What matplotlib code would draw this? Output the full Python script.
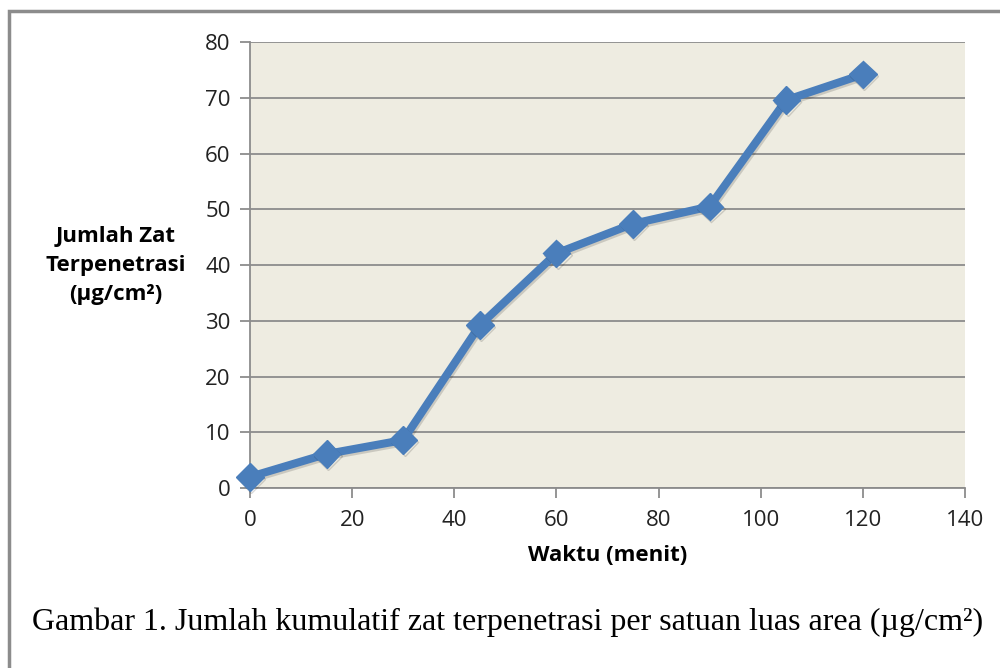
import matplotlib
matplotlib.use("Agg")
import matplotlib.pyplot as plt
from matplotlib.patches import Rectangle
import matplotlib.patheffects as pe

waktu = [0, 15, 30, 45, 60, 75, 90, 105, 120]
jumlah = [2.0, 6.1, 8.6, 29.2, 42.1, 47.4, 50.5, 69.6, 74.2]
xticks = [0, 20, 40, 60, 80, 100, 120, 140]
yticks = [0, 10, 20, 30, 40, 50, 60, 70, 80]

fig = plt.figure(figsize=(10, 6.68), dpi=100)
fig.patch.set_facecolor("white")
fig.patches.append(Rectangle((0.009, -0.05), 1.5, 1.033, transform=fig.transFigure,
                             fill=False, edgecolor="#8c8c8c", linewidth=2.5))

ax = fig.add_axes([0.25, 0.2695, 0.715, 0.6675])
ax.set_facecolor("#EEECE1")
ax.set_xlim(0, 140)
ax.set_ylim(0, 80)
ax.set_xticks(xticks)
ax.set_yticks(yticks)
ax.yaxis.grid(True, color="#8c8c8c", linewidth=1.3)
ax.set_axisbelow(True)
for s in ["top", "right"]:
    ax.spines[s].set_visible(False)
for s in ["left", "bottom"]:
    ax.spines[s].set_color("#8c8c8c")
    ax.spines[s].set_linewidth(1.3)
ax.tick_params(axis="both", direction="out", length=7, width=1.3, color="#8c8c8c",
               labelsize=16, labelcolor="#222222")
ax.tick_params(axis="y", pad=7)
ax.tick_params(axis="x", pad=9)
for lab in ax.get_xticklabels() + ax.get_yticklabels():
    lab.set_fontfamily("Open Sans")

ax.plot(waktu, jumlah, color="#4A7EBB", linewidth=5.8, marker="D", markersize=14,
        markerfacecolor="#4A7EBB", markeredgecolor="#4A7EBB", clip_on=False, zorder=3,
        path_effects=[pe.SimpleLineShadow(offset=(1, -1.5), alpha=0.15), pe.Normal()])

ax.set_xlabel("Waktu (menit)", fontsize=16, fontweight="bold", fontfamily="Open Sans",
              labelpad=10)
fig.text(0.116, 0.602, "Jumlah Zat\nTerpenetrasi\n(µg/cm²)", ha="center", va="center",
         fontsize=16, fontweight="bold", fontfamily="Open Sans", linespacing=1.5)

fig.text(0.508, 0.068, "Gambar 1. Jumlah kumulatif zat terpenetrasi per satuan luas area (µg/cm²)",
         ha="center", va="center", fontsize=23, fontfamily="Liberation Serif")

fig.savefig("out.png", dpi=100)
